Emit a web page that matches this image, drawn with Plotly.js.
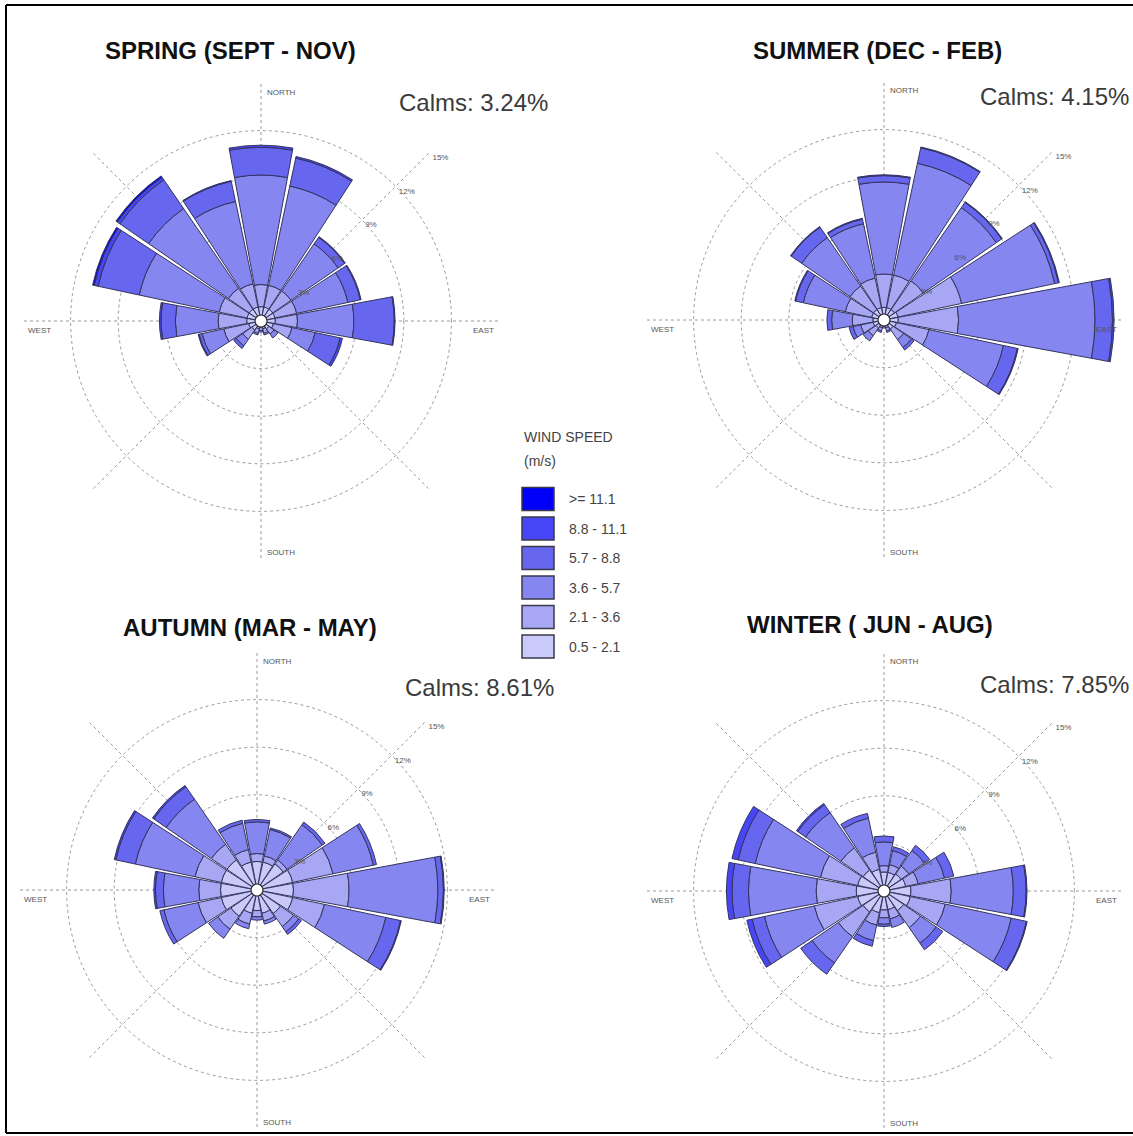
<!DOCTYPE html>
<html>
<head>
<meta charset="utf-8">
<script src="https://cdn.plot.ly/plotly-3.0.1.min.js"></script>
<style>html,body{margin:0;padding:0;background:#fff}#chart{width:1133px;height:1136px}</style>
</head>
<body>
<div id="chart"></div>
<script>
// ---------------- DATA ----------------
const directions = ['N','NNE','NE','ENE','E','ESE','SE','SSE','S','SSW','SW','WSW','W','WNW','NW','NNW'];
const thetaDeg = [0,22.5,45,67.5,90,112.5,135,157.5,180,202.5,225,247.5,270,292.5,315,337.5];
const speedBins = ['0.5 - 2.1','2.1 - 3.6','3.6 - 5.7','5.7 - 8.8','8.8 - 11.1','>= 11.1'];
const binColors = ['#cacafa','#a7a7f4','#8686f0','#6666ee','#4646f6','#0000fa'];
const seasonTitles = ['SPRING (SEPT - NOV)','SUMMER (DEC - FEB)','AUTUMN (MAR - MAY)','WINTER ( JUN - AUG)'];
const calmsPct = ['3.24','4.15','8.61','7.85'];
const radialTicks = [3,6,9,12,15];
const cardinalLabels = ['NORTH','EAST','SOUTH','WEST'];

// frequencies (%) per speed bin, directions N..NNW
const spring_b1 = [0.9,0.9,0.9,0.9,0.9,0.8,0.6,0.5,0.4,0.5,0.7,0.8,0.9,0.9,0.9,0.9];
const spring_b2 = [1.4,1.4,1.4,1.4,1.4,1.2,0.4,0.3,0.2,0.3,0.7,1.6,1.8,1.8,1.6,1.5];
const spring_b3 = [6.9,6.4,3.6,3.3,3.55,1.5,0.3,0.1,0.1,0.1,0.5,1.4,2.7,5.15,6.1,5.3];
const spring_b4 = [1.75,1.8,0.5,0.8,2.55,1.6,0,0,0,0,0.2,0.2,0.9,2.65,2.2,1.3];
const spring_b5 = [0.13,0.1,0.05,0.05,0.05,0.15,0,0,0,0,0,0.05,0.1,0.25,0.2,0.05];
const spring_b6 = [0,0,0,0,0,0,0,0,0,0,0,0,0,0.1,0.1,0];

const summer_b1 = [0.8,0.8,0.8,0.9,0.9,0.8,0.7,0.5,0.4,0.5,0.6,0.7,0.7,0.8,0.8,0.8];
const summer_b2 = [2.1,2.1,2.2,4.1,3.8,2.1,0.8,0.2,0.1,0.2,0.6,0.8,1.3,1.7,1.8,1.9];
const summer_b3 = [5.8,7.2,5.6,6.0,8.6,4.8,0.6,0.1,0,0.1,0.4,0.5,1.3,2.7,3.7,3.5];
const summer_b4 = [0.4,1.0,0.4,0.25,1.1,0.9,0.2,0,0,0,0,0.25,0.3,0.5,0.8,0.3];
const summer_b5 = [0.05,0.05,0.05,0.05,0.1,0.05,0,0,0,0,0,0,0,0.05,0.05,0.05];
const summer_b6 = [0,0,0,0,0,0,0,0,0,0,0,0,0,0,0,0];

const autumn_b1 = [1.8,1.8,2.0,2.3,2.3,2.3,1.8,1.5,1.3,1.5,2.0,2.3,2.3,2.3,2.3,1.8];
const autumn_b2 = [0.5,0.4,0.3,2.6,3.5,2.05,1.0,0.5,0.4,0.7,1.0,1.5,1.37,1.7,1.2,0.8];
const autumn_b3 = [2.0,1.7,2.7,2.6,5.6,3.95,0.4,0.2,0.2,0.3,0.7,2.2,2.23,3.84,3.45,1.7];
const autumn_b4 = [0.15,0.1,0.2,0.2,0.35,0.95,0.2,0,0,0,0,0.26,0.5,1.26,0.95,0.2];
const autumn_b5 = [0,0,0,0,0.05,0.05,0,0,0,0,0,0,0.1,0.1,0.1,0];
const autumn_b6 = [0,0,0,0,0,0,0,0,0,0,0,0,0,0,0,0];

const winter_b1 = [1.2,1.2,1.3,1.4,1.7,1.7,1.5,1.2,1.2,1.4,1.6,1.7,1.75,1.7,1.6,1.4];
const winter_b2 = [0.4,0.5,0.6,0.8,2.54,2.25,1.3,0.6,0.5,0.8,1.9,2.8,2.53,2.4,1.7,1.1];
const winter_b3 = [1.5,0.9,1.2,1.7,3.91,4.25,1.2,0.55,0.4,1.0,2.0,3.2,4.26,4.2,2.7,2.2];
const winter_b4 = [0.37,0.25,0.4,0.6,0.81,0.98,0.5,0,0.14,0.36,0.87,0.8,1.04,1.1,0.6,0.3];
const winter_b5 = [0,0,0,0,0.05,0.05,0,0,0,0,0,0.34,0.35,0.4,0.1,0];
const winter_b6 = [0,0,0,0,0,0,0,0,0,0,0,0,0,0,0,0];

const seasonData = [
  [spring_b1,spring_b2,spring_b3,spring_b4,spring_b5,spring_b6],
  [summer_b1,summer_b2,summer_b3,summer_b4,summer_b5,summer_b6],
  [autumn_b1,autumn_b2,autumn_b3,autumn_b4,autumn_b5,autumn_b6],
  [winter_b1,winter_b2,winter_b3,winter_b4,winter_b5,winter_b6]
];

// ---------------- LAYOUT GEOMETRY (pixels) ----------------
const W = 1133, H = 1136;
const RING = 238;                 // pixel radius of the 15% ring
const RMAX = 15.02;
const RDOM = RING * RMAX / 15;
const centers = [[261,321],[884,320],[257,890],[884,891]];
const titlePos = [[230,50],[877,50],[250,627],[870,624]];
// [x, y, anchor]
const calmsPos = [[397,103,'left'],[1131,96,'right'],[403,687,'left'],[1131,684,'right']];
const px = x => x / W;
const py = y => 1 - y / H;

const traces = [];
const layout = {
  width: W, height: H,
  margin: {l:0, r:0, t:0, b:0},
  paper_bgcolor: '#ffffff',
  showlegend: false,
  font: {family: 'Liberation Sans, Arial, sans-serif', color: '#333'},
  annotations: [],
  shapes: []
};

seasonData.forEach((bins, s) => {
  const key = s === 0 ? 'polar' : 'polar' + (s + 1);
  const [cx, cy] = centers[s];
  layout[key] = {
    domain: {x: [px(cx - RDOM), px(cx + RDOM)], y: [py(cy + RDOM), py(cy - RDOM)]},
    bgcolor: 'rgba(0,0,0,0)',
    barmode: 'stack',
    bargap: 0.07,
    radialaxis: {
      range: [0, RMAX], tickmode: 'array', tickvals: radialTicks,
      ticktext: radialTicks.map(v => v + '%'),
      angle: 45, tickangle: 45, side: 'clockwise', showline: false, ticks: '',
      tickfont: {size: 8, color: '#555'},
      gridcolor: '#9a9a9a', griddash: 'dot', gridwidth: 1
    },
    angularaxis: {
      rotation: 90, direction: 'clockwise', thetaunit: 'degrees',
      tickmode: 'linear', tick0: 0, dtick: 45,
      showticklabels: false, ticks: '', showline: false,
      gridcolor: '#9a9a9a', griddash: 'dot', gridwidth: 1
    }
  };
  bins.forEach((vals, b) => {
    traces.push({
      type: 'barpolar', subplot: key,
      r: vals, theta: thetaDeg, name: speedBins[b],
      customdata: directions,
      hovertemplate: '%{customdata}: %{r}%<extra>' + speedBins[b] + '</extra>',
      marker: {color: binColors[b], line: {color: '#34345e', width: 1}},
      showlegend: false
    });
  });
  traces.push({
    type: 'scatterpolar', subplot: key, r: [0], theta: [0], mode: 'markers',
    marker: {size: 12, color: '#ffffff', line: {color: '#333', width: 1.2}},
    hoverinfo: 'skip', showlegend: false
  });

  // titles
  layout.annotations.push({
    xref: 'paper', yref: 'paper', x: px(titlePos[s][0]), y: py(titlePos[s][1]),
    xanchor: 'center', yanchor: 'middle', showarrow: false,
    text: '<b>' + seasonTitles[s] + '</b>',
    font: {family: 'Liberation Sans, Arial, sans-serif', size: 24, color: '#111'}
  });
  // calms
  layout.annotations.push({
    xref: 'paper', yref: 'paper', x: px(calmsPos[s][0]), y: py(calmsPos[s][1]),
    xanchor: calmsPos[s][2], yanchor: 'middle', showarrow: false,
    text: 'Calms: ' + calmsPct[s] + '%',
    font: {family: 'Liberation Sans, Arial, sans-serif', size: 24, color: '#3a3a3a'}
  });
  // cardinal labels
  const cf = {family: 'Liberation Sans, Arial, sans-serif', size: 8, color: '#555'};
  const card = [
    {x: cx + 4, y: cy - RING + 9, xa: 'left'},
    {x: cx + RING - 3, y: cy + 9, xa: 'right'},
    {x: cx + 4, y: cy + RING - 6, xa: 'left'},
    {x: cx - RING + 3, y: cy + 9, xa: 'left'}
  ];
  card.forEach((c, k) => layout.annotations.push({
    xref: 'paper', yref: 'paper', x: px(c.x), y: py(c.y), xanchor: c.xa, yanchor: 'middle',
    showarrow: false, text: cardinalLabels[k], font: cf
  }));
});

// custom legend (top to bottom: strongest to weakest)
layout.annotations.push({
  xref: 'paper', yref: 'paper', x: px(522), y: py(437), xanchor: 'left', yanchor: 'middle',
  showarrow: false, text: 'WIND SPEED', font: {size: 14, color: '#444'}
});
layout.annotations.push({
  xref: 'paper', yref: 'paper', x: px(522), y: py(461), xanchor: 'left', yanchor: 'middle',
  showarrow: false, text: '(m/s)', font: {size: 14, color: '#444'}
});
for (let k = 0; k < speedBins.length; k++) {
  const b = speedBins.length - 1 - k;
  const yc = 499 + k * 29.5;
  layout.shapes.push({
    type: 'rect', xref: 'paper', yref: 'paper',
    x0: px(522), x1: px(554), y0: py(yc + 11.5), y1: py(yc - 11.5),
    fillcolor: binColors[b], line: {color: '#3a3a4a', width: 1.5}
  });
  layout.annotations.push({
    xref: 'paper', yref: 'paper', x: px(567), y: py(yc), xanchor: 'left', yanchor: 'middle',
    showarrow: false, text: speedBins[b], font: {size: 14, color: '#444'}
  });
}

// frame
const frameLine = {color: '#000', width: 2};
layout.shapes.push({type:'line', xref:'paper', yref:'paper', x0: px(6), x1: 1, y0: py(5), y1: py(5), line: frameLine});
layout.shapes.push({type:'line', xref:'paper', yref:'paper', x0: px(6), x1: px(6), y0: py(5), y1: py(1133), line: frameLine});
layout.shapes.push({type:'line', xref:'paper', yref:'paper', x0: px(6), x1: 1, y0: py(1133), y1: py(1133), line: frameLine});

Plotly.newPlot('chart', traces, layout, {displayModeBar: false, responsive: false});
</script>
</body>
</html>
